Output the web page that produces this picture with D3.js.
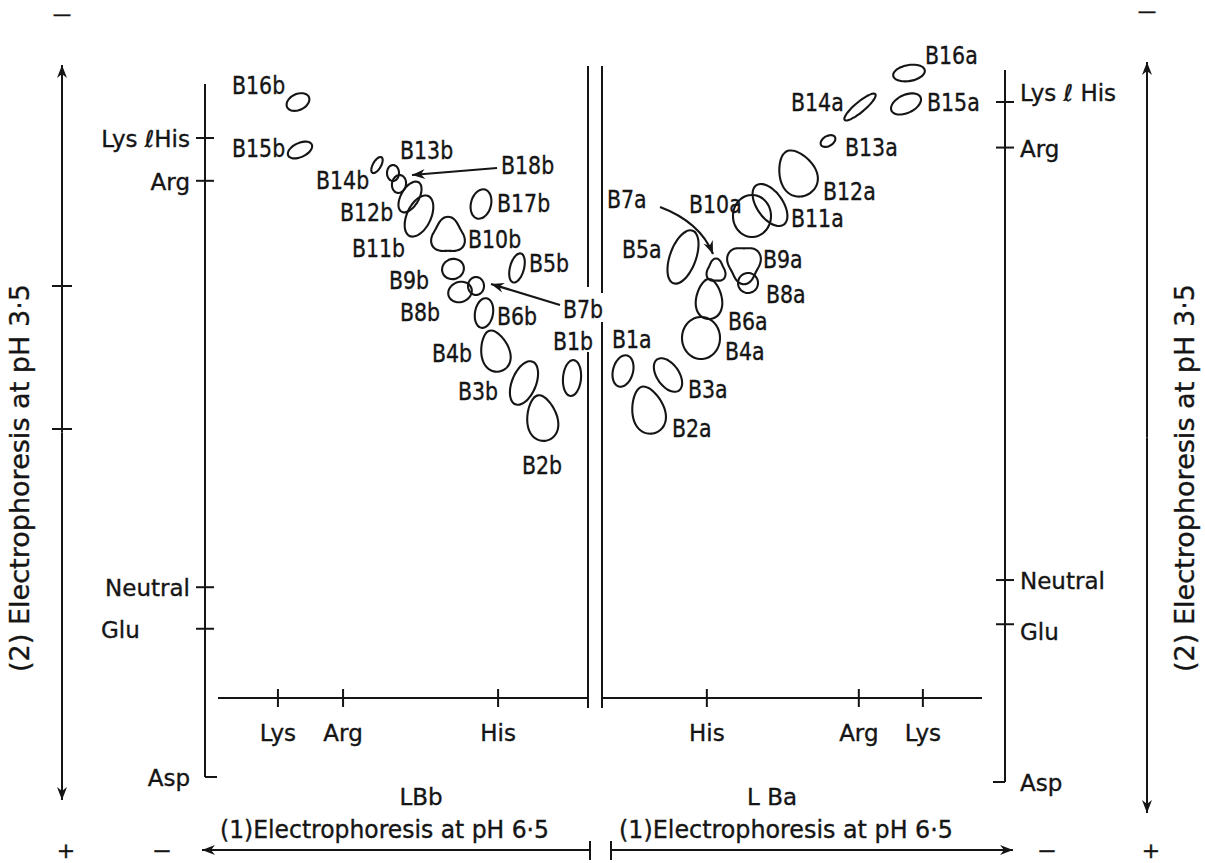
<!DOCTYPE html>
<html><head><meta charset="utf-8">
<script src="https://cdn.jsdelivr.net/npm/d3@7"></script>
<style>
body{margin:0;background:#fff;}
svg text{font-family:"DejaVu Sans",sans-serif;fill:#151515;stroke:#151515;stroke-width:0.35px;}
svg text.spotlabel{font-family:"DejaVu Sans Condensed","DejaVu Sans",sans-serif;}
</style></head><body>
<svg id="chart" width="1205" height="863"></svg>
<script>
// Second dimension (pH 3.5) reference amino acids: 0 = Asp, 100 = Lys & His
const yMarkerNames = ["Lys ℓHis", "Arg", "Neutral", "Glu", "Asp"];
const yMarkerValues = [100, 93.3, 29.7, 23.2, 0];

// First dimension (pH 6.5) reference amino acids: distance from origin towards cathode
const xMarkerNamesLBb = ["Lys", "Arg", "His"];
const xMarkerValuesLBb = [83.8, 66.2, 24.3];
const xMarkerNamesLBa = ["His", "Arg", "Lys"];
const xMarkerValuesLBa = [27.4, 67.5, 84.4];

// Peptide spots: [name, dim-1 mobility, dim-2 mobility, width, height, tilt (deg), outline]
const spotsLBb = [
  ["B1b", 4.32, 62.44, 4.86, 5.63, 5, "oval"],
  ["B2b", 12.43, 56.18, 8.11, 7.20, -10, "egg"],
  ["B3b", 17.30, 61.66, 6.49, 7.20, 22, "oval"],
  ["B4b", 25.14, 66.67, 7.57, 6.57, -15, "egg"],
  ["B5b", 19.19, 79.66, 3.78, 4.69, 15, "oval"],
  ["B6b", 28.11, 72.61, 4.86, 4.69, 10, "oval"],
  ["B7b", 30.27, 76.84, 4.32, 2.82, 0, "oval"],
  ["B8b", 34.59, 75.90, 6.49, 3.13, -20, "oval"],
  ["B9b", 36.49, 79.50, 5.95, 3.13, -20, "oval"],
  ["B10b", 37.84, 84.66, 8.65, 5.32, 0, "triUp"],
  ["B11b", 45.68, 87.79, 6.49, 6.89, 25, "oval"],
  ["B12b", 48.11, 90.77, 4.86, 5.32, 30, "oval"],
  ["B13b", 52.70, 94.52, 3.24, 2.50, 0, "oval"],
  ["B14b", 57.03, 95.77, 2.16, 2.82, 30, "oval"],
  ["B15b", 77.84, 98.12, 7.03, 2.19, -25, "oval"],
  ["B16b", 78.38, 105.63, 6.49, 2.50, -25, "oval"],
  ["B17b", 28.92, 89.67, 5.41, 4.69, 15, "oval"],
  ["B18b", 51.08, 92.80, 3.78, 2.82, 10, "oval"]
];
const spotsLBa = [
  ["B1a", 5.28, 60.44, 5.28, 4.71, 15, "oval"],
  ["B2a", 11.87, 54.71, 8.44, 7.06, -15, "egg"],
  ["B3a", 17.15, 59.85, 5.80, 5.59, -35, "oval"],
  ["B4a", 25.86, 65.29, 10.03, 6.18, 0, "oval"],
  ["B5a", 21.11, 77.21, 6.86, 8.24, 20, "oval"],
  ["B6a", 27.97, 71.03, 6.86, 5.88, 0, "egg"],
  ["B7a", 29.82, 75.15, 4.75, 3.24, 0, "triUp"],
  ["B8a", 38.26, 73.38, 5.28, 2.94, -30, "oval"],
  ["B9a", 37.20, 76.18, 8.44, 5.29, 0, "triDown"],
  ["B10a", 39.31, 83.24, 10.03, 6.18, 0, "oval"],
  ["B11a", 44.06, 84.85, 6.86, 7.06, -35, "oval"],
  ["B12a", 51.19, 89.56, 9.50, 7.06, -25, "egg"],
  ["B13a", 59.37, 94.26, 4.22, 1.47, -30, "oval"],
  ["B14a", 67.81, 99.26, 10.55, 1.47, -40, "oval"],
  ["B15a", 79.95, 99.71, 8.44, 2.65, -25, "oval"],
  ["B16a", 80.74, 104.26, 8.44, 2.35, -10, "oval"]
];

// Label placement relative to each spot centre (px)
const labelOffset = {
  B1b:[-19,-28], B2b:[-20,56], B3b:[-66,17], B4b:[-63,11], B5b:[12,4], B6b:[13,12],
  B7b:[87,32], B8b:[-60,29], B9b:[-64,20], B10b:[20,12], B11b:[-67,41], B12b:[-70,24],
  B13b:[7,-14], B14b:[-61,24], B15b:[-68,7], B16b:[-66,-8], B17b:[16,8], B18b:[102,-10],
  B1a:[-11,-23], B2a:[24,27], B3a:[20,23], B4a:[24,22], B5a:[-61,1], B6a:[19,31],
  B7a:[-109,-63], B8a:[18,20], B9a:[19,4], B10a:[-63,-3], B11a:[21,22], B12a:[26,27],
  B13a:[17,15], B14a:[-69,4], B15a:[21,7], B16a:[16,-9]
};
// Pointer arrows: start relative to label anchor, end relative to spot centre
const pointers = {
  B18b:{from:[-4,-6], to:[13,-9]},
  B7b:{from:[-3,-13], to:[15,-2]},
  B7a:{from:[53,-1], to:[-3,-17], bend:[40,15]}
};

const svg = d3.select("#chart");
const ink = "#151515";

// squeeze spot labels slightly so their widths follow the lettering
function squeeze(sel, k){
  sel.each(function(){
    const w = this.getComputedTextLength();
    d3.select(this).attr("textLength", w*k).attr("lengthAdjust","spacingAndGlyphs");
  });
}

const defs = svg.append("defs");
defs.append("marker").attr("id","head").attr("viewBox","-14 -6 16 12")
  .attr("refX",0).attr("refY",0).attr("markerWidth",16).attr("markerHeight",12)
  .attr("markerUnits","userSpaceOnUse").attr("orient","auto-start-reverse")
  .append("path").attr("d","M0,0 L-13,-5 L-9,0 L-13,5 Z").attr("fill",ink);

const panels = [
  { name:"LBb", spots:spotsLBb, xNames:xMarkerNamesLBb, xVals:xMarkerValuesLBb,
    x:d3.scaleLinear().domain([0,100]).range([588,218]),
    y:d3.scaleLinear().domain([0,100]).range([777,138]),
    axisX:205, axisTop:84, side:-1, centre:588, gap:[287,352] },
  { name:"LBa", spots:spotsLBa, xNames:xMarkerNamesLBa, xVals:xMarkerValuesLBa,
    x:d3.scaleLinear().domain([0,100]).range([603,982]),
    y:d3.scaleLinear().domain([0,100]).range([782,102]),
    axisX:1005, axisTop:70, side:1, centre:602, gap:[293,322] }
];

function outline(d, sx, sy){
  const cx = sx(d[1]), cy = sy(d[2]);
  const rx = Math.abs(sx(d[3]/2) - sx(0)), ry = Math.abs(sy(d[4]/2) - sy(0));
  const a = d[5]*Math.PI/180, form = d[6];
  const pts = [];
  for (let i = 0; i < 40; i++){
    const t = i/40*2*Math.PI;
    let px = Math.cos(t), py = Math.sin(t), r = 1;
    if (form === "egg") px *= (1 + 0.22*py);
    if (form === "triUp") r = 1 + 0.13*Math.cos(3*(t + Math.PI/2));
    if (form === "triDown") r = 1 + 0.13*Math.cos(3*(t - Math.PI/2));
    px *= r*rx; py *= r*ry;
    pts.push([cx + px*Math.cos(a) - py*Math.sin(a), cy + px*Math.sin(a) + py*Math.cos(a)]);
  }
  return d3.line().curve(d3.curveCardinalClosed)(pts);
}

panels.forEach(p => {
  const g = svg.append("g");
  // vertical reference axis (second dimension)
  g.append("line").attr("x1",p.axisX).attr("x2",p.axisX)
    .attr("y1",p.axisTop).attr("y2",p.y(0)).attr("stroke",ink).attr("stroke-width",2);
  yMarkerNames.forEach((n,i) => {
    const yy = p.y(yMarkerValues[i]);
    const isBase = yMarkerValues[i] === 0;
    const x1 = isBase ? p.axisX : p.axisX - 9, x2 = isBase ? p.axisX - p.side*12 : p.axisX + 9;
    g.append("line").attr("x1",x1).attr("x2",x2).attr("y1",yy).attr("y2",yy)
      .attr("stroke",ink).attr("stroke-width",2);
    let dy = 9, tx = p.axisX + p.side*15, anchor = p.side < 0 ? "end" : "start";
    if (p.side < 0 && n === "Glu"){ tx = 101; anchor = "start"; }
    if (p.side > 0 && n === "Glu") dy = 16;
    if (p.side > 0 && n === "Lys ℓHis") dy = -1;
    g.append("text").attr("x",tx).attr("y",yy+dy).attr("text-anchor",anchor)
      .attr("font-size",23).text(p.side > 0 && n === "Lys ℓHis" ? "Lys ℓ His" : n);
  });
  // horizontal reference axis (first dimension)
  const axY = 698;
  g.append("line").attr("x1",p.x(0)).attr("x2",p.x(100)).attr("y1",axY).attr("y2",axY)
    .attr("stroke",ink).attr("stroke-width",2);
  p.xNames.forEach((n,i) => {
    const xx = p.x(p.xVals[i]);
    g.append("line").attr("x1",xx).attr("x2",xx).attr("y1",axY-9).attr("y2",axY+9)
      .attr("stroke",ink).attr("stroke-width",2);
    g.append("text").attr("x",xx).attr("y",741).attr("text-anchor","middle")
      .attr("font-size",23).text(n);
  });
  // origin line between the two gels
  g.append("line").attr("x1",p.centre).attr("x2",p.centre).attr("y1",66).attr("y2",p.gap[0])
    .attr("stroke",ink).attr("stroke-width",2);
  g.append("line").attr("x1",p.centre).attr("x2",p.centre).attr("y1",p.gap[1]).attr("y2",708)
    .attr("stroke",ink).attr("stroke-width",2);
  // spots
  g.selectAll("path.spot").data(p.spots).join("path").attr("class","spot")
    .attr("d", d => outline(d, p.x, p.y))
    .attr("fill","none").attr("stroke",ink).attr("stroke-width",2.1);
  // spot labels
  p.spots.forEach(d => {
    const o = labelOffset[d[0]];
    const lx = p.x(d[1]) + o[0], ly = p.y(d[2]) + o[1];
    g.append("text").attr("class","spotlabel").attr("x",lx).attr("y",ly)
      .attr("font-size",24.5).text(d[0]).call(squeeze, 0.93);
    const ptr = pointers[d[0]];
    if (ptr){
      const sx = lx + ptr.from[0], sy = ly + ptr.from[1];
      const ex = p.x(d[1]) + ptr.to[0], ey = p.y(d[2]) + ptr.to[1];
      const path = d3.path();
      path.moveTo(sx, sy);
      if (ptr.bend) path.quadraticCurveTo(sx + ptr.bend[0], sy + ptr.bend[1], ex, ey);
      else path.lineTo(ex, ey);
      g.append("path").attr("d", path.toString()).attr("fill","none")
        .attr("stroke",ink).attr("stroke-width",2.2).attr("marker-end","url(#head)");
    }
  });
  // gel name and first-dimension direction
  g.append("text").attr("x", p.side < 0 ? 421 : 772).attr("y",805).attr("text-anchor","middle")
    .attr("font-size",23).text(p.side < 0 ? "LBb" : "L Ba");
  g.append("text").attr("x", p.side < 0 ? 220 : 619).attr("y",838)
    .attr("font-size",24).attr("textLength",p.side < 0 ? 329 : 334).attr("lengthAdjust","spacingAndGlyphs")
    .text("(1)Electrophoresis at pH 6·5");
  const a0 = p.side < 0 ? 590 : 611, a1 = p.side < 0 ? 202 : 1013;
  g.append("line").attr("x1",a0).attr("x2",a1).attr("y1",850).attr("y2",850)
    .attr("stroke",ink).attr("stroke-width",2).attr("marker-end","url(#head)");
  g.append("line").attr("x1",a0).attr("x2",a0).attr("y1",841).attr("y2",860)
    .attr("stroke",ink).attr("stroke-width",2);
  g.append("text").attr("x", p.side < 0 ? 162 : 1047).attr("y",858).attr("text-anchor","middle")
    .attr("font-size",22).attr("textLength",20).attr("lengthAdjust","spacingAndGlyphs").text("−");
  g.append("text").attr("x", p.side < 0 ? 66 : 1151).attr("y",858).attr("text-anchor","middle")
    .attr("font-size",22).text("+");
  // second-dimension direction arrow
  const ox = p.side < 0 ? 62 : 1147;
  const top = p.side < 0 ? 65 : 62, bot = p.side < 0 ? 800 : 813;
  g.append("line").attr("x1",ox).attr("x2",ox).attr("y1",(top+bot)/2).attr("y2",top)
    .attr("stroke",ink).attr("stroke-width",2).attr("marker-end","url(#head)");
  g.append("line").attr("x1",ox).attr("x2",ox).attr("y1",(top+bot)/2).attr("y2",bot)
    .attr("stroke",ink).attr("stroke-width",2).attr("marker-end","url(#head)");
  if (p.side < 0){
    [286, 429].forEach(t => g.append("line").attr("x1",ox-10).attr("x2",ox+10)
      .attr("y1",t).attr("y2",t).attr("stroke",ink).attr("stroke-width",2));
  }
  g.append("text").attr("x",ox).attr("y", p.side < 0 ? 21 : 18).attr("text-anchor","middle")
    .attr("font-size",19).attr("textLength",22).attr("lengthAdjust","spacingAndGlyphs").text("−");
  const lx = p.side < 0 ? 29 : 1194;
  g.append("text").attr("transform",`translate(${lx},478) rotate(-90)`)
    .attr("text-anchor","middle").attr("font-size",26)
    .attr("textLength",388).attr("lengthAdjust","spacingAndGlyphs")
    .text("(2) Electrophoresis at pH 3·5");
});
</script>
</body></html>
